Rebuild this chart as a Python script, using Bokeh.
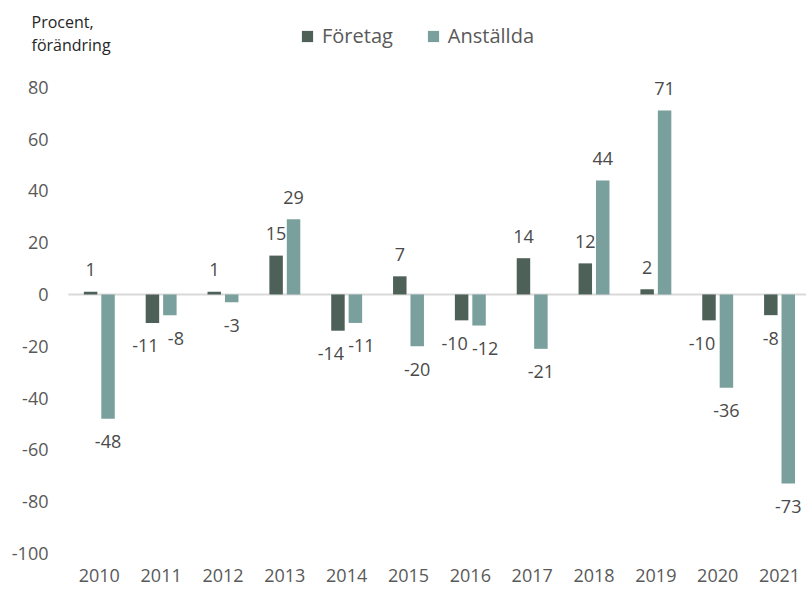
import numpy as np
from bokeh.plotting import figure
from bokeh.models import (Range1d, FixedTicker, Legend, LegendItem,
                          ColumnDataSource)
from bokeh.core.properties import value
from bokeh.embed import file_html
from bokeh.resources import INLINE

# ---- data ----
years = ["2010", "2011", "2012", "2013", "2014", "2015",
         "2016", "2017", "2018", "2019", "2020", "2021"]
foretag = [1, -11, 1, 15, -14, 7, -10, 14, 12, 2, -10, -8]
anstallda = [-48, -8, -3, 29, -11, -20, -12, -21, 44, 71, -36, -73]
y_ticks = [-100, -80, -60, -40, -20, 0, 20, 40, 60, 80]
series_names = ["Företag", "Anställda"]
axis_title = ["Procent,", "förändring"]

# ---- style ----
FONT = "Open Sans"
C_FOR = "#4e6158"
C_ANS = "#7aa09d"
TXT = "#595959"
LBL = "#4a4a4a"
OFF = 0.141
BW = 0.218

W, H = 806, 590
X0, X1 = -1.598, 11.436
Y0, Y1 = -103.5, 113.5
PX_Y = 294 / Y1

idx = np.arange(len(years))

p = figure(width=W, height=H,
           min_border_left=0, min_border_right=0, min_border_top=0, min_border_bottom=28,
           x_range=Range1d(X0, X1), y_range=Range1d(Y0, Y1),
           output_backend="svg", toolbar_location=None,
           outline_line_color=None, background_fill_color="white")

p.xgrid.visible = False
p.ygrid.visible = False
p.yaxis.visible = False

# zero line across the category area
p.segment(x0=[idx[0] - 0.5], y0=[0], x1=[X1], y1=[0],
          line_color="#d9d9d9", line_width=2)

src_f = ColumnDataSource(dict(x=idx - OFF, top=foretag))
src_a = ColumnDataSource(dict(x=idx + OFF, top=anstallda))
r_f = p.vbar(x="x", top="top", bottom=0, width=BW, source=src_f,
             fill_color=C_FOR, line_color=None)
r_a = p.vbar(x="x", top="top", bottom=0, width=BW, source=src_a,
             fill_color=C_ANS, line_color=None)

# value labels (nudged apart where neighbouring negative labels would collide)
def offsets(vals, other, is_first):
    xo, yo = [], []
    for v, o in zip(vals, other):
        yo.append(-22 if v >= 0 else 23)
        dx = 0
        if v < 0:
            if is_first and abs(v) >= 10:
                dx = -7
            elif (not is_first) and o < 0 and abs(v) < 15:
                dx = 6
        xo.append(dx)
    return xo, yo

xo_f, yo_f = offsets(foretag, anstallda, True)
xo_a, yo_a = offsets(anstallda, foretag, False)
lab_f = ColumnDataSource(dict(x=idx - OFF, y=foretag, t=[str(v) for v in foretag], xo=xo_f, yo=yo_f))
lab_a = ColumnDataSource(dict(x=idx + OFF, y=anstallda, t=[str(v) for v in anstallda], xo=xo_a, yo=yo_a))
for s in (lab_f, lab_a):
    p.text(x="x", y="y", text="t", x_offset="xo", y_offset="yo", source=s,
           text_align="center", text_baseline="middle",
           text_font=value(FONT), text_font_size="18px", text_color=LBL)

# y tick labels, placed through the y scale
p.text(x=[X0] * len(y_ticks), y=y_ticks, text=[str(t) for t in y_ticks],
       x_offset=48, text_align="right", text_baseline="middle",
       text_font=value(FONT), text_font_size="18px", text_color=TXT)

# axis title (two lines)
p.text(x=[X0] * 2, y=[(294 - 22) / PX_Y, (294 - 45) / PX_Y], text=axis_title,
       x_offset=31, text_align="left", text_baseline="alphabetic",
       text_font=value(FONT), text_font_size="16px", text_color="#262626")

# x axis
p.xaxis.ticker = FixedTicker(ticks=list(idx))
p.xaxis.major_label_overrides = {int(i): y for i, y in zip(idx, years)}
p.xaxis.axis_line_color = None
p.xaxis.major_tick_line_color = None
p.xaxis.minor_tick_line_color = None
p.xaxis.major_tick_out = 0
p.xaxis.major_tick_in = 0
p.xaxis.major_label_standoff = 6
p.xaxis.major_label_text_font = FONT
p.xaxis.major_label_text_font_size = "18px"
p.xaxis.major_label_text_color = TXT

legend = Legend(items=[LegendItem(label=series_names[0], renderers=[r_f]),
                       LegendItem(label=series_names[1], renderers=[r_a])],
                orientation="horizontal", location=(300, 513),
                glyph_width=14, glyph_height=14, label_standoff=8, spacing=33,
                padding=0, margin=0, border_line_color=None, background_fill_alpha=0,
                label_text_font=FONT, label_text_font_size="20px", label_text_color=TXT)
p.add_layout(legend, "center")

open("out.html", "w").write(file_html(p, INLINE))
